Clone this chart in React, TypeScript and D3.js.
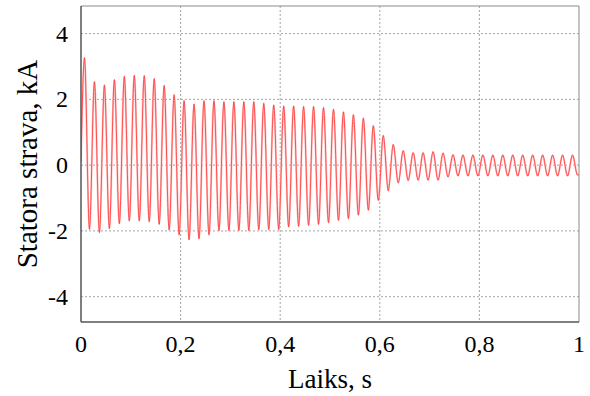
import React from "react";
import * as d3 from "d3";

// Signal: 50 Hz stator current, one positive and one negative peak per cycle
const period = 0.02; // s
const firstPeakTime = 0.007; // s
const firstTroughTime = 0.017; // s
const startValue = 0.1;
const endValue = -0.28;

const peaks = [
  3.27, 2.54, 2.44, 2.6, 2.7, 2.73, 2.72, 2.63, 2.42, 2.14,
  1.96, 1.86, 1.96, 1.96, 1.93, 1.93, 1.93, 1.93, 1.88, 1.83,
  1.8, 1.8, 1.78, 1.78, 1.75, 1.7, 1.62, 1.53, 1.43, 1.2,
  0.9, 0.63, 0.44, 0.38, 0.38, 0.41, 0.37, 0.32, 0.31, 0.31,
  0.31, 0.31, 0.31, 0.31, 0.31, 0.31, 0.31, 0.31, 0.31, 0.31,
];
const troughs = [
  -1.95, -2.05, -1.93, -1.78, -1.7, -1.7, -1.72, -1.8, -1.97, -2.12,
  -2.27, -2.24, -2.12, -1.99, -1.99, -1.99, -1.99, -1.97, -1.96, -1.96,
  -1.88, -1.86, -1.83, -1.8, -1.75, -1.68, -1.63, -1.52, -1.37, -1.07,
  -0.78, -0.54, -0.47, -0.46, -0.46, -0.46, -0.36, -0.33, -0.33, -0.33,
  -0.33, -0.33, -0.33, -0.33, -0.33, -0.33, -0.33, -0.33, -0.33, -0.3,
];

const xTicks = [0, 0.2, 0.4, 0.6, 0.8, 1];
const xTickLabels = ["0", "0,2", "0,4", "0,6", "0,8", "1"];
const yTicks = [-4, -2, 0, 2, 4];
const yTickLabels = ["-4", "-2", "0", "2", "4"];
const xTitle = "Laiks, s";
const yTitle = "Statora strava, kA";

export default function App() {
  const W = 590, H = 396;
  const L = 81, R = 579, T = 6, B = 322;
  const x = d3.scaleLinear().domain([0, 1]).range([L, R]);
  const y = d3.scaleLinear().domain([-4.77, 4.84]).range([B, T]);

  const pts: [number, number][] = [[0, startValue]];
  peaks.forEach((p, k) => {
    pts.push([firstPeakTime + k * period, p]);
    if (k < troughs.length) pts.push([firstTroughTime + k * period, troughs[k]]);
  });
  pts.push([1, endValue]);

  const line = d3
    .line<[number, number]>()
    .x((d) => x(d[0]))
    .y((d) => y(d[1]))
    .curve(d3.curveMonotoneX);
  const path = line(pts) || "";

  const font = "'Liberation Serif', 'Times New Roman', serif";

  return (
    <svg
      width={W}
      height={H}
      style={{ position: "absolute", left: 0, top: 0, background: "#fff" }}
    >
      <defs>
        <clipPath id="plot">
          <rect x={L} y={T} width={R - L} height={B - T} />
        </clipPath>
      </defs>
      <rect x={0} y={0} width={W} height={H} fill="#fff" />
      {/* grid */}
      {yTicks.map((t) => (
        <line
          key={"gy" + t}
          x1={L}
          x2={R}
          y1={y(t)}
          y2={y(t)}
          stroke="#a6a6a6"
          strokeWidth={1}
          strokeDasharray="2,2"
        />
      ))}
      {xTicks.slice(1, -1).map((t) => (
        <line
          key={"gx" + t}
          x1={x(t)}
          x2={x(t)}
          y1={T}
          y2={B}
          stroke="#a6a6a6"
          strokeWidth={1}
          strokeDasharray="2,2"
        />
      ))}
      {/* waveform */}
      <g clipPath="url(#plot)">
        <path d={path} fill="none" stroke="#ffc2c2" strokeWidth={2} />
        <path d={path} fill="none" stroke="#ff1e1e" strokeWidth={0.7} />
      </g>
      {/* frame */}
      <line x1={L} x2={R} y1={T} y2={T} stroke="#8a8a8a" strokeWidth={1} />
      <line x1={R} x2={R} y1={T} y2={B} stroke="#8a8a8a" strokeWidth={1} />
      <line x1={L} x2={L} y1={T} y2={B} stroke="#555" strokeWidth={1.5} />
      <line x1={L} x2={R} y1={B} y2={B} stroke="#555" strokeWidth={1.5} />
      {/* tick labels */}
      {xTicks.map((t, i) => (
        <text
          key={"xl" + t}
          x={x(t)}
          y={352}
          textAnchor="middle"
          fontFamily={font}
          fontSize={24}
          fill="#000"
        >
          {xTickLabels[i]}
        </text>
      ))}
      {yTicks.map((t, i) => (
        <text
          key={"yl" + t}
          x={68}
          y={y(t)}
          dy="0.33em"
          textAnchor="end"
          fontFamily={font}
          fontSize={24}
          fill="#000"
        >
          {yTickLabels[i]}
        </text>
      ))}
      {/* titles */}
      <text
        x={(L + R) / 2}
        y={388}
        textAnchor="middle"
        fontFamily={font}
        fontSize={27}
        fill="#000"
      >
        {xTitle}
      </text>
      <text
        transform={`translate(37, ${(T + B) / 2}) rotate(-90)`}
        textAnchor="middle"
        fontFamily={font}
        fontSize={29}
        fill="#000"
      >
        {yTitle}
      </text>
    </svg>
  );
}
